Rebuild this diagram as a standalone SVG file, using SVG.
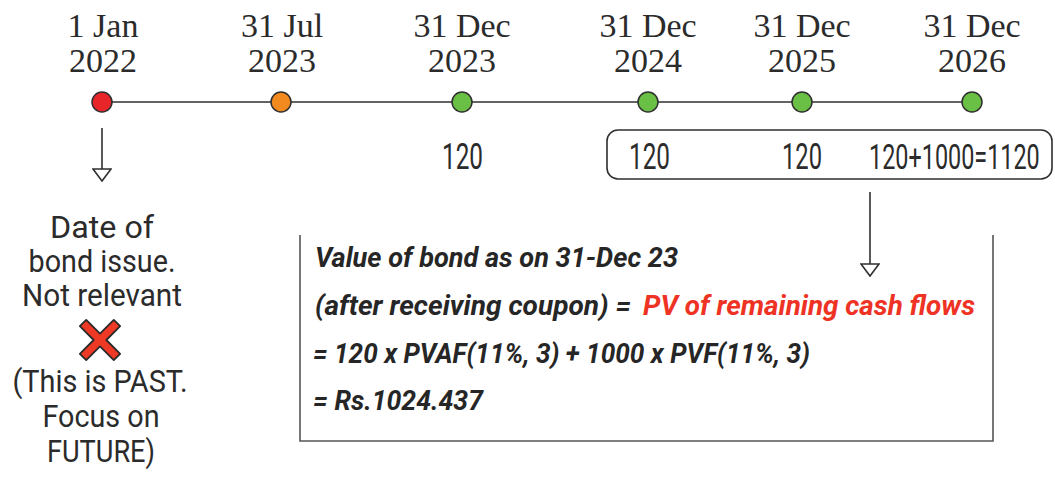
<svg xmlns="http://www.w3.org/2000/svg" width="1055" height="477" viewBox="0 0 1055 477">
  <style>
    .date { font-family: "Liberation Serif", "DejaVu Serif", serif; font-size: 34px; fill: #2b2b2b; text-anchor: middle; }
    .lbl { font-family: Roboto, "Liberation Sans", sans-serif; font-size: 31px; fill: #2b2b2b; text-anchor: middle; }
    .amt { font-family: Roboto, "Liberation Sans", sans-serif; font-size: 36px; fill: #2b2b2b; }
    .calc { font-family: Roboto, "Liberation Sans", sans-serif; font-size: 28px; font-weight: bold; font-style: italic; fill: #262626; }
    .hi { fill: #ee3224; }
    .dot { stroke: #2f2f2f; stroke-width: 1.5; }
    .wire { stroke: #2f2f2f; stroke-width: 1.6; fill: none; }
  </style>
  <defs>
    <!-- open triangular head, drawn pointing along +x -->
    <marker id="hollow" viewBox="0 0 14 20" refX="13" refY="10" markerWidth="14" markerHeight="20" markerUnits="userSpaceOnUse" orient="auto">
      <path d="M1,1 L1,19 L13,10 Z" fill="#fff" stroke="#2f2f2f" stroke-width="1.6" stroke-linejoin="miter"/>
    </marker>
  </defs>
  <rect width="1055" height="477" fill="#fff"/>

  <!-- timeline axis and pointers -->
  <g id="connectors">
    <line class="wire" x1="102" y1="102" x2="972" y2="102"/>
    <line class="wire" x1="102" y1="128" x2="102" y2="181" marker-end="url(#hollow)"/>
    <line class="wire" x1="870" y1="192" x2="870" y2="276" marker-end="url(#hollow)"/>
  </g>

  <!-- timeline points -->
  <g id="t-2022-01-01">
    <text class="date" x="103" y="37">1 Jan</text>
    <text class="date" x="103" y="72">2022</text>
    <circle class="dot" cx="102" cy="102" r="10" fill="#e8262a"/>
  </g>
  <g id="t-2023-07-31">
    <text class="date" x="282" y="37">31 Jul</text>
    <text class="date" x="282" y="72">2023</text>
    <circle class="dot" cx="281" cy="102" r="10" fill="#f28a1f"/>
  </g>
  <g id="t-2023-12-31">
    <text class="date" x="462" y="37">31 Dec</text>
    <text class="date" x="462" y="72">2023</text>
    <circle class="dot" cx="462" cy="102" r="10" fill="#6abf45"/>
    <text class="amt" x="442" y="169" textLength="41" lengthAdjust="spacingAndGlyphs">120</text>
  </g>
  <g id="t-2024-12-31">
    <text class="date" x="648" y="37">31 Dec</text>
    <text class="date" x="648" y="72">2024</text>
    <circle class="dot" cx="648" cy="102" r="10" fill="#6abf45"/>
  </g>
  <g id="t-2025-12-31">
    <text class="date" x="802" y="37">31 Dec</text>
    <text class="date" x="802" y="72">2025</text>
    <circle class="dot" cx="802" cy="102" r="10" fill="#6abf45"/>
  </g>
  <g id="t-2026-12-31">
    <text class="date" x="972" y="37">31 Dec</text>
    <text class="date" x="972" y="72">2026</text>
    <circle class="dot" cx="972" cy="102" r="10" fill="#6abf45"/>
  </g>

  <!-- remaining cash flows -->
  <g id="remaining-flows">
    <rect x="607" y="130" width="445" height="49" rx="11" fill="none" stroke="#2f2f2f" stroke-width="1.6"/>
    <text class="amt" x="629" y="169" textLength="41" lengthAdjust="spacingAndGlyphs">120</text>
    <text class="amt" x="782" y="169" textLength="40" lengthAdjust="spacingAndGlyphs">120</text>
    <text class="amt" transform="translate(869,169) scale(0.65,1)" x="0" y="0">120+1000=1120</text>
  </g>

  <!-- issue date note -->
  <g id="issue-note">
    <text class="lbl" x="102" y="238" textLength="104" lengthAdjust="spacingAndGlyphs">Date of</text>
    <text class="lbl" x="102" y="272" textLength="147" lengthAdjust="spacingAndGlyphs">bond issue.</text>
    <text class="lbl" x="102" y="306" textLength="160" lengthAdjust="spacingAndGlyphs">Not relevant</text>
    <path transform="translate(100,340) rotate(45)" d="M-4.5,-24 H4.5 V-4.5 H24 V4.5 H4.5 V24 H-4.5 V4.5 H-24 V-4.5 H-4.5 Z" fill="#ee3a24" stroke="#2a2a2a" stroke-width="1.8" stroke-linejoin="round"/>
    <text class="lbl" x="100" y="392" textLength="175" lengthAdjust="spacingAndGlyphs">(This is PAST.</text>
    <text class="lbl" x="101" y="427" textLength="117" lengthAdjust="spacingAndGlyphs">Focus on</text>
    <text class="lbl" x="101" y="462" textLength="108" lengthAdjust="spacingAndGlyphs">FUTURE)</text>
  </g>

  <!-- valuation working -->
  <g id="valuation">
    <path d="M300,235 V441 H993 V235" fill="none" stroke="#555" stroke-width="1.6"/>
    <text class="calc" x="315" y="267" textLength="363" lengthAdjust="spacingAndGlyphs">Value of bond as on 31-Dec 23</text>
    <text class="calc" x="315" y="315" textLength="316" lengthAdjust="spacingAndGlyphs">(after receiving coupon) =</text>
    <text class="calc hi" x="643" y="315" textLength="332" lengthAdjust="spacingAndGlyphs">PV of remaining cash flows</text>
    <text class="calc" x="313" y="363" textLength="497" lengthAdjust="spacingAndGlyphs">= 120 x PVAF(11%, 3) + 1000 x PVF(11%, 3)</text>
    <text class="calc" x="313" y="410" textLength="170" lengthAdjust="spacingAndGlyphs">= Rs.1024.437</text>
  </g>
</svg>
